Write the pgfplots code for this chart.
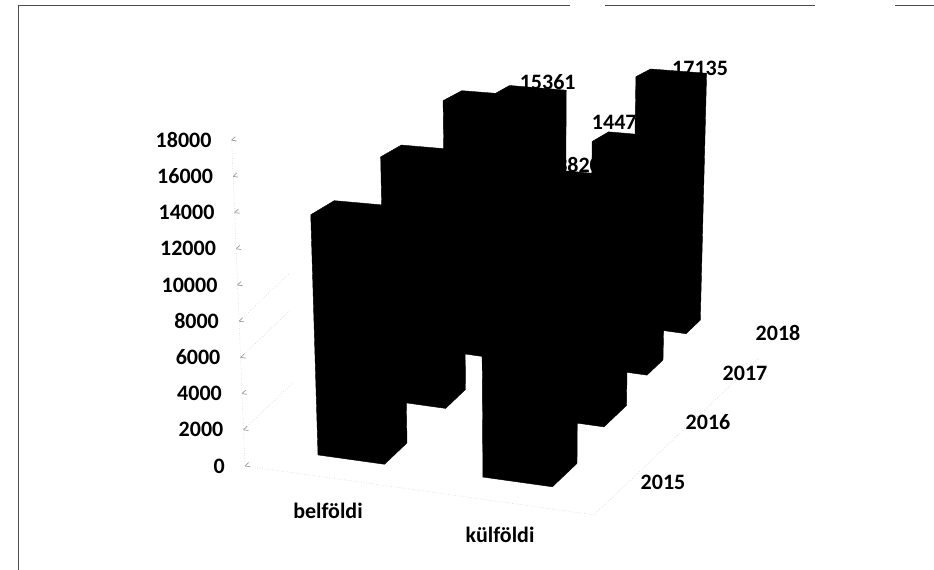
\documentclass[border=0pt]{standalone}
\usepackage{fontspec}
\setmainfont{Carlito}
\usepackage{pgfplots}
\pgfplotsset{compat=1.18}
\tikzset{
  barfill/.style={fill=black, draw=black, line width=0.4pt, mark=none},
  wallgrid/.style={gray!50, line width=0.5pt, dotted, mark=none},
  lab/.style={font=\fontsize{22}{22}\selectfont\bfseries, text=black, inner sep=0pt},
  vlab/.style={font=\fontsize{22}{22}\selectfont\bfseries, text=black, inner sep=0pt}
}
% top corner of a bar: the reference is in perspective, so height scale and
% lean depend on where the foot of the bar sits on the floor
\newcommand{\corner}[4]{%
  \pgfmathsetmacro\sx{245+#2+#3}%
  \pgfmathsetmacro\sy{466+0.14*#2-0.95*#3}%
  \pgfmathsetmacro\hh{(\the\numexpr#4/10\relax/100)*14.4*(1+(\sy-320)/568)}%
  \pgfmathsetmacro\dd{\hh*((\sx-525)/6859+0.0409)}%
  \expandafter\pgfmathsetmacro\csname #1x\endcsname{#2+0.8716*\dd}%
  \expandafter\pgfmathsetmacro\csname #1y\endcsname{#3+0.1284*\dd}%
  \expandafter\pgfmathsetmacro\csname #1z\endcsname{\hh/18.1}%
}
% xL xR yFront yBack value
\newcommand{\cuboid}[5]{%
  \corner{pp}{#1}{#3}{#5}%
  \corner{qq}{#1}{#4}{#5}%
  \corner{rr}{#2}{#4}{#5}%
  \edef\temp{\noexpand\addplot3[barfill] coordinates {
    (#1,#3,0) (#2,#3,0) (#2,#4,0) (\rrx,\rry,\rrz) (\qqx,\qqy,\qqz) (\ppx,\ppy,\ppz)
  } -- cycle;}\temp
}
% x y value label xshift yshift
\newcommand{\vlabel}[6]{%
  \corner{cc}{#1}{#2}{#3}%
  \edef\temp{\noexpand\node[vlab, xshift=#5pt, yshift=#6pt] at (axis cs:\ccx,\ccy,\ccz) {#4};}\temp
}
\begin{document}
\begin{tikzpicture}
\path[use as bounding box] (-245pt,-104pt) rectangle (689pt,466pt);
% scan frame
\draw[black!70, line width=0.7pt] (-227pt,-104pt) -- (-227pt,461pt) -- (325pt,461pt);
\draw[black!70, line width=0.7pt] (360pt,461pt) -- (570pt,461pt);
\draw[black!70, line width=0.7pt] (650pt,461pt) -- (689pt,461pt);
\begin{axis}[
  at={(0,0)}, anchor=origin,
  disabledatascaling,
  x={(1pt,-0.14pt)}, y={(1pt,0.95pt)}, z={(-0.74pt,18.1pt)},
  xmin=0, xmax=349, ymin=0, ymax=170, zmin=0, zmax=18,
  clip=false,
  axis lines*=left,
  axis line style={draw=none},
  xtick={83,255}, xticklabels={belföldi,külföldi},
  ytick=\empty,
  ztick={0,2,4,6,8,10,12,14,16,18},
  zticklabels={0,2000,4000,6000,8000,10000,12000,14000,16000,18000},
  zticklabel pos=left,
  major tick length=5pt,
  ztick style={draw=gray!80, line width=0.7pt},
  xtick style={draw=none},
  xticklabel style={lab, anchor=center, yshift=-33pt},
  zticklabel style={lab, anchor=east, xshift=-20pt},
]
% floor and left wall, faint
\addplot3[wallgrid] coordinates {(0,0,0) (0,0,18)};
\addplot3[wallgrid] coordinates {(0,0,0) (349,0,0)};
\addplot3[wallgrid] coordinates {(349,0,0) (349,165,0)};
\addplot3[wallgrid] coordinates {(0,0,2) (0,50,2)};
\addplot3[wallgrid] coordinates {(0,0,6) (0,50,6)};
\addplot3[wallgrid] coordinates {(0,0,8) (0,50,8)};
% belföldi
\cuboid{77}{132}{174}{188}{15361}
\cuboid{70}{127}{131}{149}{16500}
\cuboid{62}{122}{78.6}{98.5}{14800}
\cuboid{53.5}{120}{19.5}{42}{13480}
% külföldi
\cuboid{209}{263}{178}{192.3}{17135}
\cuboid{210}{267}{135}{151}{14473}
\cuboid{215}{277}{82}{104.5}{13820}
\cuboid{217.5}{287}{20.4}{45}{13000}
% value labels
\vlabel{104.5}{181}{15361}{15361}{17}{10}
\vlabel{246}{93}{13820}{13820}{-13}{16}
\vlabel{238.5}{143}{14473}{14473}{-10}{17}
\vlabel{236}{185}{17135}{17135}{29}{7}
% year labels
\node[lab] at (axis cs:379,39,0) {2015};
\node[lab] at (axis cs:363,100,0) {2016};
\node[lab] at (axis cs:351,149,0) {2017};
\node[lab] at (axis cs:342.5,190.5,0) {2018};
\end{axis}
\end{tikzpicture}
\end{document}
